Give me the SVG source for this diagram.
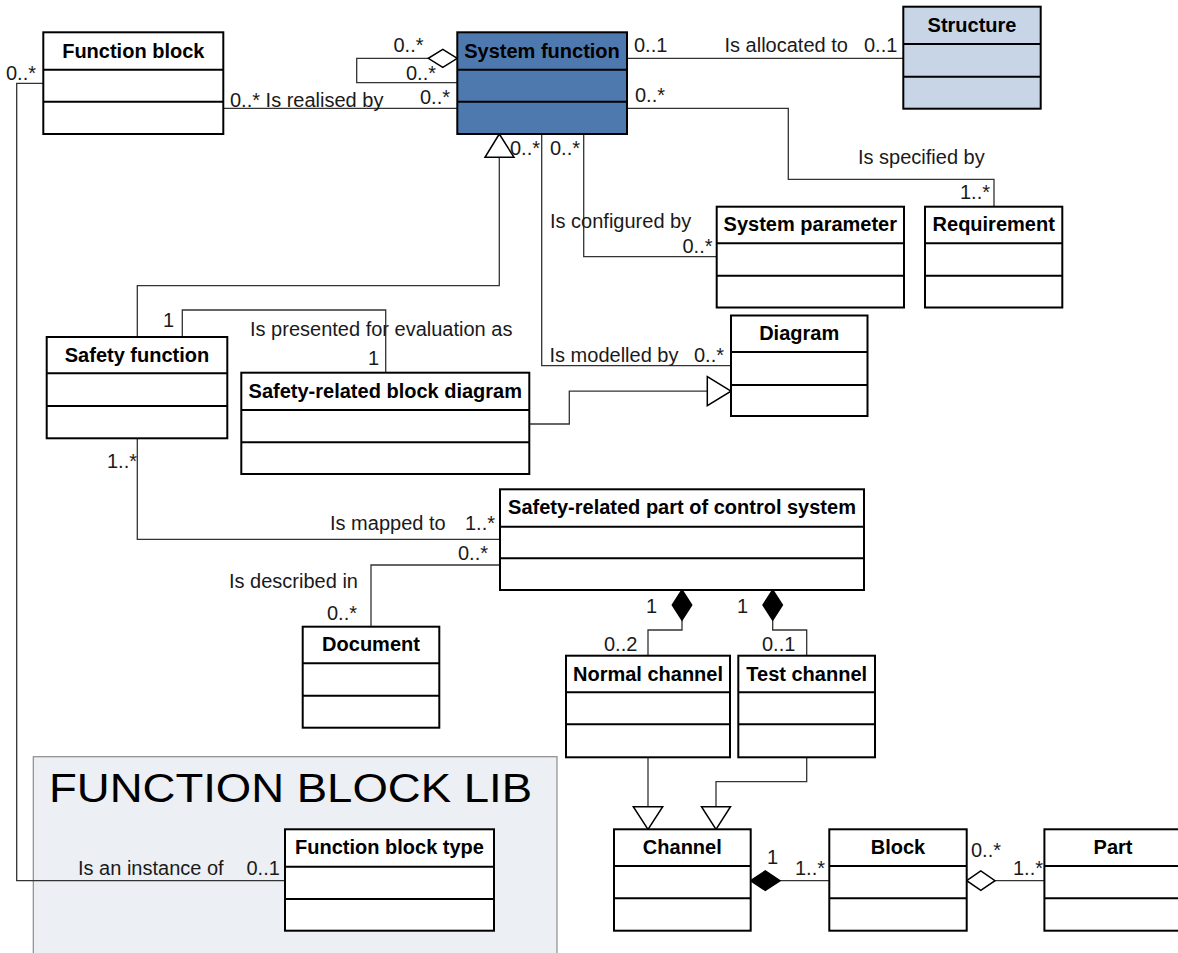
<svg xmlns="http://www.w3.org/2000/svg" width="1178" height="953" viewBox="0 0 1178 953">
  <style>
    .box { fill: #ffffff; stroke: #000000; stroke-width: 2; }
    .sys { fill: #4e79af; }
    .struct { fill: #c8d5e7; }
    .sep { stroke: #000000; stroke-width: 2; }
    .title { font-family: "Liberation Sans", Arial, sans-serif; font-size: 20px; font-weight: bold; text-anchor: middle; fill: #000000; }
    .lbl { font-family: "Liberation Sans", Arial, sans-serif; font-size: 20px; fill: #1a1a1a; }
    .conn { fill: none; stroke: #333333; stroke-width: 1.3; }
    .hollow { fill: #ffffff; stroke: #000000; stroke-width: 1.5; }
    .solid { fill: #000000; stroke: #000000; stroke-width: 1.5; }
    .pkg { fill: #eceff4; stroke: #8c8c8c; stroke-width: 1.2; }
    .pkgname { font-family: "Liberation Sans", Arial, sans-serif; font-size: 41px; fill: #000000; }
  </style>

  <!-- library package -->
  <g id="function-block-lib">
    <rect class="pkg" x="33.3" y="756.7" width="523.7" height="220"/>
    <text class="pkgname" x="49" y="801.7" textLength="483" lengthAdjust="spacingAndGlyphs">FUNCTION BLOCK LIB</text>
  </g>

  <!-- associations, generalisations and their end labels -->
  <g id="connectors">
    <polyline class="conn" points="223.3,108.3 457.3,108.3"/>
    <polyline class="conn" points="428.3,58.3 356.7,58.3 356.7,82.7 457.3,82.7"/>
    <polyline class="conn" points="627,58.3 903.3,58.3"/>
    <polyline class="conn" points="627,108.3 788.3,108.3 788.3,179.3 994,179.3 994,206.7"/>
    <polyline class="conn" points="583.7,134 583.7,256.7 716.7,256.7"/>
    <polyline class="conn" points="541.7,134 541.7,365.7 731,365.7"/>
    <polyline class="conn" points="137.3,337 137.3,285.7 499.3,285.7 499.3,157.3"/>
    <polyline class="conn" points="182.3,337 182.3,310 385.7,310 385.7,372.7"/>
    <polyline class="conn" points="529.3,424 569.3,424 569.3,391.2 707.3,391.2"/>
    <polyline class="conn" points="137.3,438.3 137.3,539.3 500,539.3"/>
    <polyline class="conn" points="500,565 371,565 371,626.7"/>
    <polyline class="conn" points="682,620 682,630 648,630 648,655.7"/>
    <polyline class="conn" points="772.7,620 772.7,630 806.7,630 806.7,655.7"/>
    <polyline class="conn" points="648,757.3 648,806.7"/>
    <polyline class="conn" points="806.7,757.3 806.7,781.7 716,781.7 716,806.7"/>
    <polyline class="conn" points="780,880.7 829.3,880.7"/>
    <polyline class="conn" points="995,880.7 1044.4,880.7"/>
    <polyline class="conn" points="43.3,83.3 16.7,83.3 16.7,880.7 285,880.7"/>

    <!-- generalisation heads -->
    <polygon class="hollow" points="499.3,134 485,157.3 514,157.3"/>
    <polygon class="hollow" points="731,391.2 707.3,376.7 707.3,405.7"/>
    <polygon class="hollow" points="648,829.3 633.3,806.7 662.7,806.7"/>
    <polygon class="hollow" points="716,829.3 701.5,806.7 730.5,806.7"/>

    <!-- aggregation / composition ends -->
    <polygon class="hollow" points="457.3,58.3 442.8,49.3 428.3,58.3 442.8,67.3"/>
    <polygon class="solid" points="682,590 691.7,605 682,620 672.3,605"/>
    <polygon class="solid" points="772.7,590 782.4,605 772.7,620 763,605"/>
    <polygon class="solid" points="750.7,880.7 765.3,871 780,880.7 765.3,890.4"/>
    <polygon class="hollow" points="966.7,880.7 980.8,871 995,880.7 980.8,890.4"/>

    <!-- role names and multiplicities -->
    <text class="lbl" x="6" y="80">0..*</text>
    <text class="lbl" x="230" y="106.7">0..* Is realised by</text>
    <text class="lbl" x="393.5" y="51.7">0..*</text>
    <text class="lbl" x="406" y="80">0..*</text>
    <text class="lbl" x="420" y="104">0..*</text>
    <text class="lbl" x="634" y="52.3">0..1</text>
    <text class="lbl" x="724.5" y="52.3">Is allocated to</text>
    <text class="lbl" x="864" y="52.3">0..1</text>
    <text class="lbl" x="635" y="101.7">0..*</text>
    <text class="lbl" x="858" y="164">Is specified by</text>
    <text class="lbl" x="960" y="199">1..*</text>
    <text class="lbl" x="510" y="155">0..*</text>
    <text class="lbl" x="550" y="155">0..*</text>
    <text class="lbl" x="550" y="228.3">Is configured by</text>
    <text class="lbl" x="682.5" y="252.7">0..*</text>
    <text class="lbl" x="549.5" y="361.7">Is modelled by</text>
    <text class="lbl" x="694" y="361.7">0..*</text>
    <text class="lbl" x="163" y="327">1</text>
    <text class="lbl" x="250" y="335.7">Is presented for evaluation as</text>
    <text class="lbl" x="368" y="365">1</text>
    <text class="lbl" x="107" y="468">1..*</text>
    <text class="lbl" x="330" y="530">Is mapped to</text>
    <text class="lbl" x="465" y="530">1..*</text>
    <text class="lbl" x="458" y="560">0..*</text>
    <text class="lbl" x="229" y="588">Is described in</text>
    <text class="lbl" x="327" y="620">0..*</text>
    <text class="lbl" x="646" y="613.3">1</text>
    <text class="lbl" x="604" y="650.7">0..2</text>
    <text class="lbl" x="737" y="613.3">1</text>
    <text class="lbl" x="762" y="650.7">0..1</text>
    <text class="lbl" x="767" y="864">1</text>
    <text class="lbl" x="795" y="875">1..*</text>
    <text class="lbl" x="971" y="856.7">0..*</text>
    <text class="lbl" x="1013" y="875">1..*</text>
    <text class="lbl" x="78" y="875">Is an instance of</text>
    <text class="lbl" x="246.5" y="875">0..1</text>
  </g>

  <!-- classes -->
  <g id="function-block">
    <rect class="box" x="43.3" y="32.3" width="180" height="101.7"/>
    <line class="sep" x1="43.3" y1="69.7" x2="223.3" y2="69.7"/>
    <line class="sep" x1="43.3" y1="101.7" x2="223.3" y2="101.7"/>
    <text class="title" x="133.3" y="57.5">Function block</text>
  </g>

  <g id="system-function">
    <rect class="box sys" x="457.3" y="32.3" width="169.7" height="101.7"/>
    <line class="sep" x1="457.3" y1="69.7" x2="627" y2="69.7"/>
    <line class="sep" x1="457.3" y1="101.7" x2="627" y2="101.7"/>
    <text class="title" x="542" y="57.5">System function</text>
  </g>

  <g id="structure">
    <rect class="box struct" x="903.3" y="6.7" width="137.4" height="102"/>
    <line class="sep" x1="903.3" y1="44" x2="1040.7" y2="44"/>
    <line class="sep" x1="903.3" y1="76.7" x2="1040.7" y2="76.7"/>
    <text class="title" x="972" y="32">Structure</text>
  </g>

  <g id="system-parameter">
    <rect class="box" x="716.7" y="206.7" width="187.3" height="100.8"/>
    <line class="sep" x1="716.7" y1="243.3" x2="904" y2="243.3"/>
    <line class="sep" x1="716.7" y1="275.8" x2="904" y2="275.8"/>
    <text class="title" x="810.3" y="231">System parameter</text>
  </g>

  <g id="requirement">
    <rect class="box" x="925" y="206.7" width="137.3" height="100.8"/>
    <line class="sep" x1="925" y1="243.3" x2="1062.3" y2="243.3"/>
    <line class="sep" x1="925" y1="275.8" x2="1062.3" y2="275.8"/>
    <text class="title" x="993.7" y="231">Requirement</text>
  </g>

  <g id="diagram">
    <rect class="box" x="731" y="315.5" width="136.5" height="100.5"/>
    <line class="sep" x1="731" y1="352" x2="867.5" y2="352"/>
    <line class="sep" x1="731" y1="385" x2="867.5" y2="385"/>
    <text class="title" x="799.2" y="340.3">Diagram</text>
  </g>

  <g id="safety-function">
    <rect class="box" x="46.7" y="337" width="180.6" height="101.3"/>
    <line class="sep" x1="46.7" y1="373.3" x2="227.3" y2="373.3"/>
    <line class="sep" x1="46.7" y1="406" x2="227.3" y2="406"/>
    <text class="title" x="137" y="361.7">Safety function</text>
  </g>

  <g id="safety-related-block-diagram">
    <rect class="box" x="241.3" y="372.7" width="288" height="101.3"/>
    <line class="sep" x1="241.3" y1="410" x2="529.3" y2="410"/>
    <line class="sep" x1="241.3" y1="442.3" x2="529.3" y2="442.3"/>
    <text class="title" x="385.3" y="397.5">Safety-related block diagram</text>
  </g>

  <g id="safety-related-part">
    <rect class="box" x="500" y="489.3" width="364" height="100.7"/>
    <line class="sep" x1="500" y1="526.7" x2="864" y2="526.7"/>
    <line class="sep" x1="500" y1="558.3" x2="864" y2="558.3"/>
    <text class="title" x="682" y="513.5">Safety-related part of control system</text>
  </g>

  <g id="document">
    <rect class="box" x="302.7" y="626.7" width="136.6" height="101"/>
    <line class="sep" x1="302.7" y1="663.3" x2="439.3" y2="663.3"/>
    <line class="sep" x1="302.7" y1="695.7" x2="439.3" y2="695.7"/>
    <text class="title" x="371" y="651">Document</text>
  </g>

  <g id="normal-channel">
    <rect class="box" x="566" y="655.7" width="164" height="101.6"/>
    <line class="sep" x1="566" y1="692.3" x2="730" y2="692.3"/>
    <line class="sep" x1="566" y1="724.3" x2="730" y2="724.3"/>
    <text class="title" x="648" y="680.7">Normal channel</text>
  </g>

  <g id="test-channel">
    <rect class="box" x="738.3" y="655.7" width="136.7" height="101.6"/>
    <line class="sep" x1="738.3" y1="692.3" x2="875" y2="692.3"/>
    <line class="sep" x1="738.3" y1="724.3" x2="875" y2="724.3"/>
    <text class="title" x="806.7" y="680.7">Test channel</text>
  </g>

  <g id="channel">
    <rect class="box" x="614" y="829.3" width="136.7" height="101.4"/>
    <line class="sep" x1="614" y1="866" x2="750.7" y2="866"/>
    <line class="sep" x1="614" y1="898.3" x2="750.7" y2="898.3"/>
    <text class="title" x="682.3" y="853.5">Channel</text>
  </g>

  <g id="block">
    <rect class="box" x="829.3" y="829.3" width="137.4" height="101.4"/>
    <line class="sep" x1="829.3" y1="866" x2="966.7" y2="866"/>
    <line class="sep" x1="829.3" y1="898.3" x2="966.7" y2="898.3"/>
    <text class="title" x="898" y="853.5">Block</text>
  </g>

  <g id="part">
    <rect class="box" x="1044.4" y="829.3" width="137" height="101.4"/>
    <line class="sep" x1="1044.4" y1="866" x2="1181.4" y2="866"/>
    <line class="sep" x1="1044.4" y1="898.3" x2="1181.4" y2="898.3"/>
    <text class="title" x="1113" y="853.5">Part</text>
  </g>

  <g id="function-block-type">
    <rect class="box" x="285" y="829.3" width="209" height="101.4"/>
    <line class="sep" x1="285" y1="866.7" x2="494" y2="866.7"/>
    <line class="sep" x1="285" y1="899" x2="494" y2="899"/>
    <text class="title" x="389.5" y="854">Function block type</text>
  </g>
</svg>
